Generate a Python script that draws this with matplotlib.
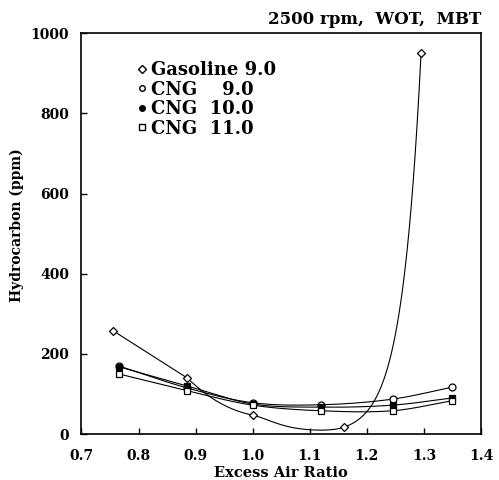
import numpy as np
import matplotlib.pyplot as plt
from matplotlib.lines import Line2D

# values
gas_x = [0.755, 0.885, 1.0, 1.16, 1.295]
gas_y = [258, 140, 47, 17, 950]
cng9_x = [0.765, 0.885, 1.0, 1.12, 1.245, 1.35]
cng9_y = [170, 115, 78, 73, 87, 117]
cng10_x = [0.765, 0.885, 1.0, 1.12, 1.245, 1.35]
cng10_y = [168, 120, 75, 67, 72, 90]
cng11_x = [0.765, 0.885, 1.0, 1.12, 1.245, 1.35]
cng11_y = [150, 108, 72, 58, 58, 83]

labels = ["Gasoline 9.0", "CNG    9.0", "CNG  10.0", "CNG  11.0"]
x_ticks = [0.7, 0.8, 0.9, 1.0, 1.1, 1.2, 1.3, 1.4]
y_ticks = [0, 200, 400, 600, 800, 1000]
title = "2500 rpm,  WOT,  MBT"


def hermite(xs, ys, log=False, right_secant=False, n=40):
    # smooth curve through the points, for drawing only
    x = np.asarray(xs, float)
    y = np.log(np.asarray(ys, float)) if log else np.asarray(ys, float)
    sec = np.diff(y) / np.diff(x)
    m = np.empty_like(y)
    m[0], m[-1] = sec[0], sec[-1]
    if right_secant:
        m[1:-1] = sec[1:]
    else:
        m[1:-1] = (y[2:] - y[:-2]) / (x[2:] - x[:-2])
    t = np.linspace(0, 1, n)
    h00 = 2 * t ** 3 - 3 * t ** 2 + 1
    h10 = t ** 3 - 2 * t ** 2 + t
    h01 = -2 * t ** 3 + 3 * t ** 2
    h11 = t ** 3 - t ** 2
    cx, cy = [], []
    for i in range(len(x) - 1):
        h = x[i + 1] - x[i]
        cx.append(x[i] + h * t)
        cy.append(h00 * y[i] + h10 * h * m[i] + h01 * y[i + 1] + h11 * h * m[i + 1])
    cx, cy = np.concatenate(cx), np.concatenate(cy)
    return cx, (np.exp(cy) if log else cy)


plt.rcParams["font.family"] = "DejaVu Serif"
plt.rcParams["font.weight"] = "bold"

fig = plt.figure(figsize=(4.99, 4.8), dpi=100)
ax = fig.add_axes([0.1633, 0.0958, 0.8006, 0.835])

lw = 0.8
# gasoline: straight first segment, then a smooth curve
ax.plot(gas_x[:2], gas_y[:2], color="black", lw=lw)
sx, sy = hermite(gas_x[1:], gas_y[1:], log=True, right_secant=True)
ax.plot(sx, sy, color="black", lw=lw)
for xs, ys in ((cng9_x, cng9_y), (cng10_x, cng10_y), (cng11_x, cng11_y)):
    sx, sy = hermite(xs, ys)
    ax.plot(sx, sy, color="black", lw=lw)

ms = 5
ax.plot(gas_x, gas_y, ls="none", marker="D", ms=ms - 1, mfc="white", mec="black", mew=0.9)
ax.plot(cng9_x, cng9_y, ls="none", marker="o", ms=ms, mfc="white", mec="black", mew=0.9)
ax.plot(cng10_x, cng10_y, ls="none", marker="s", ms=ms - 1, mfc="black", mec="black", mew=0.9)
ax.plot(cng11_x, cng11_y, ls="none", marker="s", ms=ms, mfc="white", mec="black", mew=0.9)

handles = [
    Line2D([], [], ls="none", marker="D", ms=4, mfc="white", mec="black"),
    Line2D([], [], ls="none", marker="o", ms=4, mfc="white", mec="black"),
    Line2D([], [], ls="none", marker="o", ms=4, mfc="black", mec="black"),
    Line2D([], [], ls="none", marker="s", ms=4, mfc="white", mec="black"),
]
ax.legend(handles, labels, loc="upper left", bbox_to_anchor=(0.138, 0.93), frameon=False,
          handlelength=0.6, handletextpad=0.2, labelspacing=0.08, borderaxespad=0,
          borderpad=0, prop={"size": 13, "weight": "bold"})

ax.set_xlim(0.7, 1.4)
ax.set_ylim(0, 1000)
ax.set_xticks(x_ticks)
ax.set_yticks(y_ticks)
ax.set_xticklabels([f"{v:.1f}" for v in x_ticks])
ax.tick_params(direction="in", length=4.5, width=1, labelsize=10)
ax.tick_params(axis="x", pad=11)
ax.tick_params(axis="y", pad=9)
ax.set_xlabel("Excess Air Ratio", fontsize=10.5, fontweight="bold", labelpad=2)
ax.set_ylabel("Hydrocarbon (ppm)", fontsize=10, fontweight="bold")
ax.yaxis.set_label_coords(-0.143, 0.52)
for s in ax.spines.values():
    s.set_linewidth(1.2)

fig.text(0.964, 0.95, title, ha="right", va="baseline", fontsize=12)

fig.savefig("out.png", dpi=100)
